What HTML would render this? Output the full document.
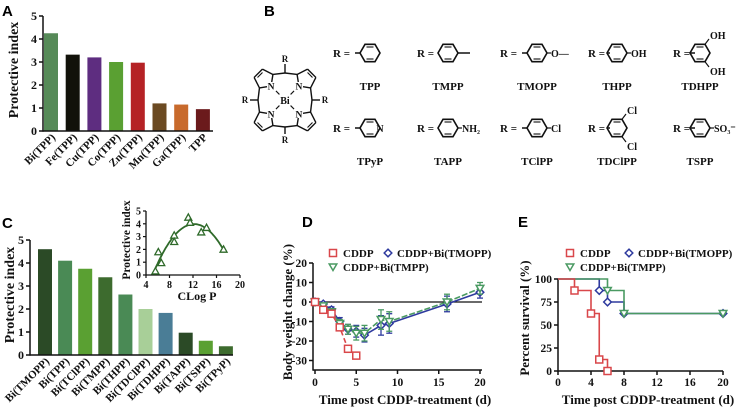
<!DOCTYPE html>
<html><head><meta charset="utf-8"><style>
html,body{margin:0;padding:0;background:#fff;}
svg{display:block;}
.t{font-family:"Liberation Serif",serif;font-weight:bold;fill:#111;}
.L{font-family:"Liberation Sans",sans-serif;font-weight:bold;font-size:15px;fill:#000;}
</style></head><body>
<svg id="fig" width="747" height="409" viewBox="0 0 747 409" xmlns="http://www.w3.org/2000/svg">
<text class="L" x="2" y="16">A</text>
<text class="L" x="264" y="16">B</text>
<text class="L" x="2" y="228">C</text>
<text class="L" x="302" y="227">D</text>
<text class="L" x="518" y="227">E</text>
<g id="gA"></g>
<g id="gB"></g>
<g id="gC"></g>
<g id="gI"></g>
<g id="gD"></g>
<g id="gE"></g>
</svg>
<script>
// Panel A data
const catA = ["Bi(TPP)","Fe(TPP)","Cu(TPP)","Co(TPP)","Zn(TPP)","Mn(TPP)","Ga(TPP)","TPP"];
const valA = [4.25,3.32,3.2,3.0,2.97,1.2,1.15,0.95];
const colA = ["#568a58","#12120a","#5e2d80","#5aa032","#b52225","#6b4a22","#c86a2c","#6b1a1c"];
const ticksA = [0,1,2,3,4,5];
// Panel C data
const catC = ["Bi(TMOPP)","Bi(TPP)","Bi(TClPP)","Bi(TMPP)","Bi(THPP)","Bi(TDClPP)","Bi(TDHPP)","Bi(TAPP)","Bi(TSPP)","Bi(TPyP)"];
const valC = [4.6,4.1,3.75,3.38,2.63,2.0,1.83,0.97,0.62,0.38];
const colC = ["#2b4a26","#4a8a55","#5aa032","#3d6b2e","#4a8a55","#a8cf98","#4a7d96","#2b4a26","#5aa032","#3d6b2e"];
// Inset
const insetX = [5.6,6.1,6.6,8.8,8.8,11.2,11.5,13.4,14.3,17.2];
const insetY = [0.3,1.8,0.95,3.1,2.6,4.5,4.1,3.35,3.7,2.0];
const insetXTicks = [4,8,12,16,20];
// Panel D
const dT = [0,1,2,3,4,5,6,8,9,16,20];
const dCDDP = [0,-4,-6,-13,-24,-27.5];
const dTMOPP = [0,-1,-4,-10,-14,-15,-17,-12,-11,-1,5];
const dTMOPPerr = [0,1,1.5,2,2.5,3,3.5,5,5,4,3];
const dTMPP = [0,-2,-5,-11,-14,-16,-16,-9,-10,0,7];
const dTMPPerr = [0,1,1.5,2,2.5,3.5,4,5,5,4,3];
const dYTicks = [20,10,0,-10,-20,-30];
const dXTicks = [0,5,10,15,20];
// Panel E
const eCDDP_t = [0,2,4,5,6]; const eCDDP_v = [100,87.5,62.5,12.5,0];
const eTMOPP_t = [0,5,6,8,20]; const eTMOPP_v = [100,87.5,75,62.5,62.5];
const eTMPP_t = [0,6,8,20]; const eTMPP_v = [100,87.5,62.5,62.5];
const eYTicks = [0,25,50,75,100];
const eXTicks = [0,4,8,12,16,20];

const NS="http://www.w3.org/2000/svg";
function mk(parent,tag,attrs,txt){const e=document.createElementNS(NS,tag);for(const k in attrs)e.setAttribute(k,attrs[k]);if(txt!==undefined)e.textContent=txt;parent.appendChild(e);return e;}
function line(p,x1,y1,x2,y2,c,w,dash){const e=mk(p,"line",{x1,y1,x2,y2,stroke:c||"#111","stroke-width":w||1.5});if(dash)e.setAttribute("stroke-dasharray",dash);return e;}
function txt(p,x,y,s,size,anchor,extra){const e=mk(p,"text",Object.assign({x,y,"font-size":size,"text-anchor":anchor||"middle",class:"t"},extra||{}),s);return e;}

// ---------- Panel A
(function(){
 const g=document.getElementById("gA");
 const y=v=>131-23*v, x=i=>51+21.7*i;
 catA.forEach((c,i)=>{
  const r=mk(g,"rect",{x:x(i)-7,y:y(valA[i]),width:14,height:y(0)-y(valA[i]),fill:colA[i]});
  
  
  const t=txt(g,x(i)+5,138,c,11,"end",{transform:`rotate(-45 ${x(i)+5} 138)`});
  
  
 });
 line(g,43,y(5),43,y(0)+0.7);line(g,43,y(0),213,y(0));
 ticksA.forEach(v=>{line(g,39,y(v),43,y(v));const t=txt(g,37,y(v)+4,String(v),12,"end");
  });
 const yt=txt(g,18,70,"Protective index",14,"middle",{transform:"rotate(-90 18 70)"});
 
})();

// ---------- Panel C
(function(){
 const g=document.getElementById("gC");
 const y=v=>355-23*v, x=i=>45+20.1*i;
 catC.forEach((c,i)=>{
  const r=mk(g,"rect",{x:x(i)-7,y:y(valC[i]),width:14,height:y(0)-y(valC[i]),fill:colC[i]});
  
  
  const t=txt(g,x(i)+5,362,c,11,"end",{transform:`rotate(-45 ${x(i)+5} 362)`});
  
  
 });
 line(g,30,y(5),30,y(0)+0.7);line(g,30,y(0),233,y(0));
 ticksA.forEach(v=>{line(g,26,y(v),30,y(v));const t=txt(g,24,y(v)+4,String(v),12,"end");
  });
 const yt=txt(g,14,295,"Protective index",14,"middle",{transform:"rotate(-90 14 295)"});
 
})();

// ---------- Inset
(function(){
 const g=document.getElementById("gI");
 const x=v=>146+(v-4)*5.875, y=v=>275-12.8*v;
 line(g,146,y(5),146,y(0)+0.6,"#111",1.3);line(g,146,y(0),x(20),y(0),"#111",1.3);
 [0,1,2,3,4,5].forEach(v=>{line(g,143,y(v),146,y(v),"#111",1.2);const t=txt(g,141,y(v)+3.5,String(v),10,"end");
  });
 insetXTicks.forEach(v=>{line(g,x(v),y(0),x(v),y(0)+3,"#111",1.2);const t=txt(g,x(v),y(0)+13,String(v),10);
  });
 let S=[0,0,0,0,0],T=[0,0,0];
 insetX.forEach((xv,i)=>{for(let k=0;k<5;k++)S[k]+=xv**k;for(let k=0;k<3;k++)T[k]+=insetY[i]*xv**k;});
 const M=[[S[0],S[1],S[2],T[0]],[S[1],S[2],S[3],T[1]],[S[2],S[3],S[4],T[2]]];
 for(let i=0;i<3;i++){for(let j=i+1;j<3;j++){const f=M[j][i]/M[i][i];for(let k=i;k<4;k++)M[j][k]-=f*M[i][k];}}
 const c=[0,0,0];for(let i=2;i>=0;i--){let s=M[i][3];for(let k=i+1;k<3;k++)s-=M[i][k]*c[k];c[i]=s/M[i][i];}
 const x0=Math.min(...insetX),x1=Math.max(...insetX);let d="";
 for(let k=0;k<=60;k++){const xv=x0+(x1-x0)*k/60;const yv=c[0]+c[1]*xv+c[2]*xv*xv;d+=(k?"L":"M")+x(xv).toFixed(1)+","+y(yv).toFixed(1);}
 const p=mk(g,"path",{d,fill:"none",stroke:"#2f6a2a","stroke-width":1.8});
 
 insetX.forEach((xv,i)=>{const cx=x(xv),cy=y(insetY[i]);
  const m=mk(g,"polygon",{points:`${cx},${cy-3.5} ${cx-3.5},${cy+2.8} ${cx+3.5},${cy+2.8}`,fill:"#fff",stroke:"#2f6a2a","stroke-width":1.3});
  });
 const xt=txt(g,197,300,"CLog P",12);
 const yt=txt(g,130,240,"Protective index",11.5,"middle",{transform:"rotate(-90 130 240)"});
 
})();

function marker(g,type,cx,cy,col){
 let e;
 if(type==="sq")e=mk(g,"rect",{x:cx-3.5,y:cy-3.5,width:7,height:7,fill:"#fff",stroke:col,"stroke-width":1.5});
 else if(type==="di")e=mk(g,"polygon",{points:`${cx},${cy-3.8} ${cx+3.8},${cy} ${cx},${cy+3.8} ${cx-3.8},${cy}`,fill:"#fff",stroke:col,"stroke-width":1.5});
 else e=mk(g,"polygon",{points:`${cx-3.8},${cy-3} ${cx+3.8},${cy-3} ${cx},${cy+3.5}`,fill:"#fff",stroke:col,"stroke-width":1.5});
 return e;
}
const RED="#d9474a",BLUE="#2e3a9e",GREEN="#4a9a62";

// ---------- Panel D
(function(){
 const g=document.getElementById("gD");
 const x=t=>315+8.25*t, y=v=>302-1.95*v;
 line(g,313,y(20),313,370.7);line(g,313,370,482,370);line(g,313,y(0),482,y(0),"#111",1.3);
 dYTicks.forEach(v=>{line(g,309,y(v),313,y(v));const t=txt(g,307,y(v)+4,String(v),11.5,"end");
  });
 dXTicks.forEach(v=>{line(g,x(v),370,x(v),374);const t=txt(g,x(v),386,String(v),11.5);
  });
 function series(vals,err,col,type,name,dash){
  let d="";vals.forEach((v,i)=>{d+=(i?"L":"M")+x(dT[i])+","+y(v);});
  const p=mk(g,"path",{d,fill:"none",stroke:col,"stroke-width":1.6});
  if(dash)p.setAttribute("stroke-dasharray",dash);
  
  vals.forEach((v,i)=>{
   if(err&&err[i]){line(g,x(dT[i]),y(v+err[i]),x(dT[i]),y(v-err[i]),col,1.3);
    line(g,x(dT[i])-3,y(v+err[i]),x(dT[i])+3,y(v+err[i]),col,1.3);line(g,x(dT[i])-3,y(v-err[i]),x(dT[i])+3,y(v-err[i]),col,1.3);}
   const m=marker(g,type,x(dT[i]),y(v),col);
   
  });
 }
 series(dTMOPP,dTMOPPerr,BLUE,"di","tmopp");
 series(dTMPP,dTMPPerr,GREEN,"tri","tmpp","6,2");
 series(dCDDP,null,RED,"sq","cddp","5,3");
 marker(g,"sq",333,253,RED);txt(g,343,257,"CDDP",11,"start");
 marker(g,"di",388,253,BLUE);txt(g,397,257,"CDDP+Bi(TMOPP)",11,"start");
 marker(g,"tri",333,267,GREEN);txt(g,343,271,"CDDP+Bi(TMPP)",11,"start");
 const xt=txt(g,405,404,"Time post CDDP-treatment (d)",13);
 const yt=txt(g,292,312,"Body weight change (%)",13,"middle",{transform:"rotate(-90 292 312)"});
 
})();

// ---------- Panel E
(function(){
 const g=document.getElementById("gE");
 const x=t=>558+8.25*t, y=v=>371-0.92*v;
 line(g,558,y(100),558,371.7);line(g,558,371,723,371);
 eYTicks.forEach(v=>{line(g,554,y(v),558,y(v));const t=txt(g,552,y(v)+4,String(v),11.5,"end");
  });
 eXTicks.forEach(v=>{line(g,x(v),371,x(v),375);const t=txt(g,x(v),386,String(v),11.5);
  });
 function km(ts,vs,col,type,name){
  let d="M"+x(ts[0])+","+y(vs[0]);
  for(let i=1;i<ts.length;i++){d+="L"+x(ts[i])+","+y(vs[i-1])+"L"+x(ts[i])+","+y(vs[i]);}
  const p=mk(g,"path",{d,fill:"none",stroke:col,"stroke-width":1.6});
  
  for(let i=1;i<ts.length;i++){const m=marker(g,type,x(ts[i]),y(vs[i]),col);
   }
 }
 km(eTMOPP_t,eTMOPP_v,BLUE,"di","tmopp");
 km(eTMPP_t,eTMPP_v,GREEN,"tri","tmpp");
 km(eCDDP_t,eCDDP_v,RED,"sq","cddp");
 marker(g,"sq",570,253,RED);txt(g,580,257,"CDDP",11,"start");
 marker(g,"di",629,253,BLUE);txt(g,638,257,"CDDP+Bi(TMOPP)",11,"start");
 marker(g,"tri",570,267,GREEN);txt(g,580,271,"CDDP+Bi(TMPP)",11,"start");
 const xt=txt(g,648,404,"Time post CDDP-treatment (d)",13);
 const yt=txt(g,529,318,"Percent survival (%)",13,"middle",{transform:"rotate(-90 529 318)"});
 
})();

// ---------- Panel B structures
(function(){
 const g=document.getElementById("gB");
 const W=1.4;
 const bx=285,by=100;
 const centers=[[264,79],[306,79],[264,121],[306,121]];
 const meso={top:[285,73],bottom:[285,127],left:[258,100],right:[312,100]};
 centers.forEach(([cx,cy])=>{
  const a0=Math.atan2(by-cy,bx-cx);const r=10;const pts=[];
  for(let k=0;k<5;k++){const a=a0+k*2*Math.PI/5;pts.push([cx+r*Math.cos(a),cy+r*Math.sin(a)]);}
  for(let k=0;k<5;k++){const p=pts[k],q=pts[(k+1)%5];
   if(k===0){line(g,p[0]+(q[0]-p[0])*0.35,p[1]+(q[1]-p[1])*0.35,q[0],q[1],"#111",W);}
   else if(k===4){line(g,p[0],p[1],p[0]+(q[0]-p[0])*0.65,p[1]+(q[1]-p[1])*0.65,"#111",W);}
   else line(g,p[0],p[1],q[0],q[1],"#111",W);}
  // inner double bond on beta-beta edge
  const b1=pts[2],b2=pts[3];const ix=(cx-(b1[0]+b2[0])/2)*0.3,iy=(cy-(b1[1]+b2[1])/2)*0.3;
  line(g,b1[0]+(b2[0]-b1[0])*0.2+ix,b1[1]+(b2[1]-b1[1])*0.2+iy,b1[0]+(b2[0]-b1[0])*0.8+ix,b1[1]+(b2[1]-b1[1])*0.8+iy,"#111",1.1);
  txt(g,pts[0][0],pts[0][1]+3.5,"N",9.5);
  line(g,pts[0][0]+(bx-pts[0][0])*0.35,pts[0][1]+(by-pts[0][1])*0.35,bx+(pts[0][0]-bx)*0.4,by+(pts[0][1]-by)*0.4,"#111",1.1);
  [pts[1],pts[4]].forEach(p=>{let best=null,bd=1e9;for(const k in meso){const m=meso[k];const dd=(m[0]-p[0])**2+(m[1]-p[1])**2;if(dd<bd){bd=dd;best=m;}}line(g,p[0],p[1],best[0],best[1],"#111",W);});
 });
 txt(g,bx,by+4,"Bi",10);
 line(g,285,73,285,64,"#111",W);txt(g,285,62,"R",9);
 line(g,285,127,285,134,"#111",W);txt(g,285,143,"R",9);
 line(g,258,100,250,100,"#111",W);txt(g,245,103,"R",9);
 line(g,312,100,320,100,"#111",W);txt(g,325,103,"R",9);
 function ring(cx,cy){const r=10;let pts=[];for(let k=0;k<6;k++){const a=k*Math.PI/3;pts.push((cx+r*Math.cos(a)).toFixed(1)+","+(cy+r*Math.sin(a)).toFixed(1));}
  mk(g,"polygon",{points:pts.join(" "),fill:"none",stroke:"#111","stroke-width":1.6});
  line(g,cx-3.5,cy-6,cx+3.5,cy-6,"#111",1.1);line(g,cx-3.5,cy+6,cx+3.5,cy+6,"#111",1.1);}
 const items=[
  ["TPP",333,53,370,""],["TMPP",417,53,448,"me"],["TMOPP",500,53,537,"O—"],["THPP",588,53,617,"OH"],["TDHPP",673,53,700,"di:OH"],
  ["TPyP",333,128,370,"py"],["TAPP",417,128,448,"NH₂"],["TClPP",500,128,537,"Cl"],["TDClPP",588,128,617,"di:Cl"],["TSPP",673,128,700,"SO₃⁻"]];
 items.forEach(([name,rx,y,cx,sub])=>{
  const t0=txt(g,rx,y+4,"R =",11,"start");
  
  
  line(g,rx+22,y,cx-10,y,"#111",1.5);
  ring(cx,y);
  if(sub==="me")line(g,cx+10,y,cx+22,y,"#111",1.5);
  else if(sub==="py"){txt(g,cx+10,y+4,"N",10);}
  else if(sub.startsWith("di:")){const s=sub.slice(3);line(g,cx+5,y-8.7,cx+9,y-14,"#111",1.2);line(g,cx+5,y+8.7,cx+9,y+14,"#111",1.2);
   txt(g,cx+10,y-14,s,10,"start");txt(g,cx+10,y+22,s,10,"start");}
  else if(sub){line(g,cx+10,y,cx+14,y,"#111",1.2);txt(g,cx+14,y+4,sub,10,"start");}
  const lb=txt(g,cx,y+37,name,11);
  
  
 });
})();
</script>
</body></html>
